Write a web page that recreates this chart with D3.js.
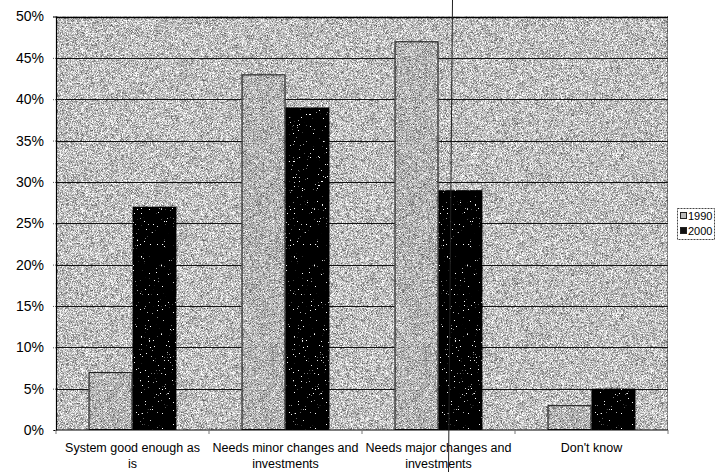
<!DOCTYPE html>
<html>
<head>
<style>
    body { margin: 0; background: #fff; }
    text { font-family: "Liberation Sans", Arial, sans-serif; fill: #000; }
</style>
</head>
<body>
<script src="https://cdnjs.cloudflare.com/ajax/libs/d3/7.8.5/d3.min.js"></script>
<script>
    const width = 715;
    const height = 472;
    const margin = {top: 16.5, right: 47, bottom: 42, left: 56};

    // data
    const categories = [["System good enough as", "is"], ["Needs minor changes and", "investments"], ["Needs major changes and", "investments"], ["Don't know"]];
    const series = ["1990", "2000"];
    const values1990 = [0.07, 0.43, 0.47, 0.03];
    const values2000 = [0.27, 0.39, 0.29, 0.05];
    const yTicks = [0, 0.05, 0.1, 0.15, 0.2, 0.25, 0.3, 0.35, 0.4, 0.45, 0.5];

    const catKeys = categories.map(c => c.join(" "));
    const rows = catKeys.map((k, i) => ({key: k, v: [values1990[i], values2000[i]]}));

    const svg = d3.select("body").append("svg").attr("width", width).attr("height", height);
    const defs = svg.append("defs");

    // grainy grey texture (plot area, 1990 bars)
    function grain(id, a, b, freq, seed) {
        const f = defs.append("filter").attr("id", id)
            .attr("color-interpolation-filters", "sRGB")
            .attr("x", 0).attr("y", 0).attr("width", 1).attr("height", 1);
        f.append("feTurbulence").attr("type", "fractalNoise").attr("baseFrequency", freq)
            .attr("numOctaves", 1).attr("seed", seed).attr("result", "n");
        f.append("feColorMatrix").attr("in", "n").attr("type", "matrix")
            .attr("values", `${a} 0 0 0 ${b}  ${a} 0 0 0 ${b}  ${a} 0 0 0 ${b}  0 0 0 0 1`).attr("result", "g");
        f.append("feComposite").attr("in", "g").attr("in2", "SourceGraphic").attr("operator", "in");
    }
    grain("bgTex", 1.5, 0.0, "1.8 1.6", 3);
    grain("barTex", 1.4, 0.0, "1.7 1.7", 7);

    // white speckles on the black bars
    const sp = defs.append("filter").attr("id", "speck")
        .attr("color-interpolation-filters", "sRGB")
        .attr("x", 0).attr("y", 0).attr("width", 1).attr("height", 1);
    sp.append("feTurbulence").attr("type", "fractalNoise").attr("baseFrequency", 0.75)
        .attr("numOctaves", 2).attr("seed", 11).attr("result", "n");
    sp.append("feColorMatrix").attr("in", "n").attr("type", "matrix")
        .attr("values", "0 0 0 0 1  0 0 0 0 1  0 0 0 0 1  20 0 0 0 -14.5").attr("result", "w");
    sp.append("feComposite").attr("in", "w").attr("in2", "SourceGraphic").attr("operator", "in");

    const x0 = d3.scaleBand().domain(catKeys).range([margin.left, width - margin.right]);
    const x1 = d3.scaleBand().domain(series).range([0, x0.bandwidth()]).paddingOuter(0.74);
    const y = d3.scaleLinear().domain([0, 0.5]).range([height - margin.bottom, margin.top]);

    const plotW = width - margin.right - margin.left;
    const plotH = y(0) - y(0.5);

    // plot area
    svg.append("rect").attr("x", margin.left).attr("y", y(0.5)).attr("width", plotW).attr("height", plotH)
        .attr("fill", "#fff").attr("filter", "url(#bgTex)");

    // gridlines
    svg.append("g").selectAll("line").data(yTicks.slice(1)).join("line")
        .attr("x1", margin.left).attr("x2", width - margin.right)
        .attr("y1", d => Math.round(y(d)) + 0.5).attr("y2", d => Math.round(y(d)) + 0.5)
        .attr("stroke", "#111").attr("stroke-width", 1);

    svg.append("line").attr("x1", width - margin.right - 0.5).attr("x2", width - margin.right - 0.5)
        .attr("y1", y(0.5)).attr("y2", y(0)).attr("stroke", "#333").attr("stroke-dasharray", "1,1");

    // bars
    const groups = svg.append("g").selectAll("g").data(rows).join("g")
        .attr("transform", d => `translate(${x0(d.key)},0)`);
    groups.each(function (d) {
        const g = d3.select(this);
        d.v.forEach((v, i) => {
            const bx = x1(series[i]);
            const by = y(v);
            const bh = y(0) - y(v);
            const bw = x1.bandwidth();
            if (i == 0) {
                g.append("rect").attr("x", bx).attr("y", by).attr("width", bw).attr("height", bh)
                    .attr("fill", "#fff").attr("filter", "url(#barTex)");
                g.append("rect").attr("x", bx + 0.5).attr("y", by + 0.5).attr("width", bw - 1).attr("height", bh - 1)
                    .attr("fill", "none").attr("stroke", "#111").attr("stroke-width", 1);
            } else {
                g.append("rect").attr("x", bx).attr("y", by).attr("width", bw).attr("height", bh).attr("fill", "#000");
                g.append("rect").attr("x", bx).attr("y", by).attr("width", bw).attr("height", bh)
                    .attr("fill", "#fff").attr("filter", "url(#speck)");
            }
        });
    });

    // y axis
    const yAxis = svg.append("g").attr("transform", `translate(${margin.left},0)`)
        .call(d3.axisLeft(y).tickValues(yTicks).tickFormat(d3.format(".0%")).tickSize(3).tickPadding(9));
    yAxis.select(".domain").attr("stroke", "#000").attr("stroke-width", 1.2);
    yAxis.selectAll(".tick line").attr("stroke", "#555").attr("stroke-dasharray", "1,1");
    yAxis.selectAll("text").attr("font-size", 14).style("font-family", "'Liberation Sans', Arial, sans-serif");

    // top border
    svg.append("line").attr("x1", margin.left).attr("x2", width - margin.right)
        .attr("y1", Math.round(y(0.5)) + 0.5).attr("y2", Math.round(y(0.5)) + 0.5)
        .attr("stroke", "#000").attr("stroke-width", 1.4);

    // x axis
    const xAxis = svg.append("g").attr("transform", `translate(0,${y(0)})`);
    xAxis.append("line").attr("x1", margin.left).attr("x2", width - margin.right)
        .attr("stroke", "#000").attr("stroke-width", 1.2);
    xAxis.selectAll(".tk").data(d3.range(catKeys.length + 1)).join("line").attr("class", "tk")
        .attr("x1", i => margin.left + i * x0.step()).attr("x2", i => margin.left + i * x0.step())
        .attr("y1", 0).attr("y2", 4).attr("stroke", "#777");
    xAxis.selectAll("text").data(categories).join("text")
        .attr("x", (d, i) => x0(catKeys[i]) + x0.bandwidth() / 2)
        .attr("y", 22).attr("text-anchor", "middle").attr("font-size", 12.5)
        .selectAll("tspan").data(d => d).join("tspan")
        .attr("x", function () { return d3.select(this.parentNode).attr("x"); })
        .attr("dy", (d, i) => i == 0 ? 0 : 16).text(d => d);

    // legend
    const lg = svg.append("g").attr("transform", "translate(677,208)");
    lg.append("rect").attr("x", 0.5).attr("y", 0.5).attr("width", 37).attr("height", 31)
        .attr("fill", "#fff").attr("stroke", "#444").attr("stroke-dasharray", "2,1");
    series.forEach((s, i) => {
        const yy = 8 + i * 15;
        lg.append("rect").attr("x", 3.5).attr("y", yy - 3.5).attr("width", 6).attr("height", 6)
            .attr("fill", i == 0 ? "#bbb" : "#111").attr("stroke", "#222");
        lg.append("text").attr("x", 11).attr("y", yy + 4).attr("font-size", 11).text(s);
    });

    // stray scan line through the picture
    svg.append("line").attr("x1", 452.5).attr("y1", 0).attr("x2", 448.5).attr("y2", height)
        .attr("stroke", "#222").attr("stroke-width", 1);
</script>
</body>
</html>
